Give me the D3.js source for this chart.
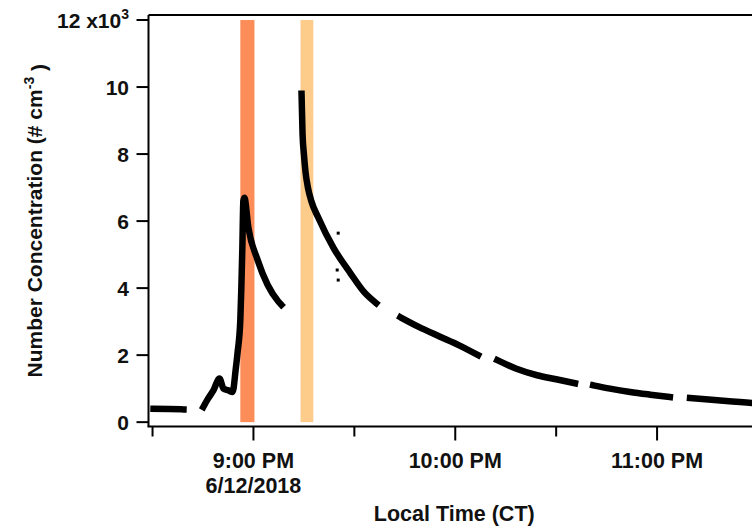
<!DOCTYPE html>
<html>
<head>
<meta charset="utf-8">
<script src="https://cdn.jsdelivr.net/npm/d3@7"></script>
<style>
  body { margin: 0; background: #fff; }
  text { font-family: "Liberation Sans", Arial, sans-serif; font-weight: bold; fill: #111; }
</style>
</head>
<body>
<div id="chart"></div>
<script>
// time values are minutes after 9:00 PM on 6/12/2018, values in 10^3 # cm^-3
const flatSegment = [[-29.7, 0.40], [-25, 0.39], [-20.8, 0.38]];
const firstEvent = [[-14.9, 0.45], [-13.5, 0.7], [-11.9, 0.95], [-10.1, 1.3], [-8.9, 1.0], [-7.5, 0.95],
  [-6.2, 0.9], [-5.3, 1.55], [-4.75, 2.05], [-3.9, 3.05], [-3.6, 4.0], [-3.3, 5.2], [-3.0, 6.6],
  [-2.7, 6.7], [-1.5, 5.8], [1.2, 4.85], [4.2, 4.1], [7.4, 3.6], [8.3, 3.5]];
const secondEvent = [[14.3, 9.8], [14.6, 8.6], [15.0, 8.0], [15.5, 7.45], [16.2, 7.0], [17.2, 6.6],
  [19.3, 6.1], [23.8, 5.2], [28.8, 4.45], [33, 3.87], [36.5, 3.55]];
const decay1 = [[43.7, 3.13], [49, 2.85], [55.5, 2.55], [61, 2.3], [66.8, 2.0]];
const decay2 = [[72.5, 1.85], [78, 1.6], [84.3, 1.4], [90, 1.28], [95.6, 1.16]];
const decay3 = [[101, 1.1], [106, 1.0], [112, 0.9], [118, 0.82], [123.8, 0.75]];
const decay4 = [[129.8, 0.72], [138, 0.65], [148.2, 0.57], [155, 0.53]];
const strayPoints = [[25.2, 5.64], [24.9, 4.54], [25.2, 4.24]];

// shaded periods (minutes after 9:00 PM)
const bands = [
  { start: -3.9, end: 0.3, color: "#fc8d59" },
  { start: 14.0, end: 17.8, color: "#fdcc8a" }
];

const yTicks = [0, 2, 4, 6, 8, 10, 12];
const hourTicks = [0, 60, 120];
const hourLabels = ["9:00 PM", "10:00 PM", "11:00 PM"];
const halfHourTicks = [-30, 30, 90, 150];

const base = new Date(2018, 5, 12, 21, 0);
const toDate = m => new Date(base.getTime() + m * 60000);

const width = 752, height = 529;
const plotLeft = 148.5, plotRight = 760, plotTop = 15, plotBottom = 426.5;

const svg = d3.select("#chart").append("svg")
  .attr("width", width).attr("height", height);

const x = d3.scaleTime()
  .domain([toDate(-31.2), toDate(150.6)])
  .range([plotLeft, plotRight]);
const y = d3.scaleLinear()
  .domain([-0.13, 12.15])
  .range([plotBottom, plotTop]);

// shaded bands
svg.selectAll(".band").data(bands).enter().append("rect")
  .attr("x", d => x(toDate(d.start)))
  .attr("width", d => x(toDate(d.end)) - x(toDate(d.start)))
  .attr("y", y(12))
  .attr("height", y(0) - y(12))
  .attr("fill", d => d.color);

// data segments
const line = d3.line()
  .curve(d3.curveMonotoneX)
  .x(d => x(toDate(d[0])))
  .y(d => y(d[1]));

const segments = [flatSegment, firstEvent, secondEvent, decay1, decay2, decay3, decay4];
svg.selectAll(".seg").data(segments).enter().append("path")
  .attr("d", line)
  .attr("fill", "none")
  .attr("stroke", "#000")
  .attr("stroke-width", 6.5)
  .attr("stroke-linecap", "square")
  .attr("stroke-linejoin", "round");

svg.selectAll(".stray").data(strayPoints).enter().append("rect")
  .attr("x", d => x(toDate(d[0])) - 1.5)
  .attr("y", d => y(d[1]) - 1.5)
  .attr("width", 3).attr("height", 3)
  .attr("fill", "#000");

// frame
svg.append("line").attr("x1", plotLeft).attr("x2", plotLeft).attr("y1", plotTop).attr("y2", plotBottom)
  .attr("stroke", "#000").attr("stroke-width", 2);
svg.append("line").attr("x1", plotLeft).attr("x2", plotRight).attr("y1", plotTop).attr("y2", plotTop)
  .attr("stroke", "#000").attr("stroke-width", 2);
svg.append("line").attr("x1", plotLeft - 1).attr("x2", plotRight).attr("y1", plotBottom).attr("y2", plotBottom)
  .attr("stroke", "#000").attr("stroke-width", 2);

// y ticks
const yg = svg.append("g");
yg.selectAll("line").data(yTicks).enter().append("line")
  .attr("x1", plotLeft - 12).attr("x2", plotLeft)
  .attr("y1", d => y(d)).attr("y2", d => y(d))
  .attr("stroke", "#000").attr("stroke-width", 2);
const yl = yg.selectAll("text").data(yTicks).enter().append("text")
  .attr("x", 129).attr("y", d => y(d)).attr("dy", "0.36em")
  .attr("text-anchor", "end").style("font-size", "21px");
yl.append("tspan").text(d => d === 12 ? "12 x10" : d);
yl.filter(d => d === 12).append("tspan")
  .attr("dy", "-0.6em").style("font-size", "14px").text("3");

// x ticks
const xg = svg.append("g");
xg.selectAll(".major").data(hourTicks).enter().append("line")
  .attr("x1", d => x(toDate(d))).attr("x2", d => x(toDate(d)))
  .attr("y1", plotBottom).attr("y2", plotBottom + 14)
  .attr("stroke", "#000").attr("stroke-width", 2);
xg.selectAll(".minor").data(halfHourTicks).enter().append("line")
  .attr("x1", d => x(toDate(d))).attr("x2", d => x(toDate(d)))
  .attr("y1", plotBottom).attr("y2", plotBottom + 10)
  .attr("stroke", "#000").attr("stroke-width", 2);
xg.selectAll("text").data(hourTicks).enter().append("text")
  .attr("x", d => x(toDate(d))).attr("y", 468)
  .attr("text-anchor", "middle").style("font-size", "21.5px")
  .text((d, i) => hourLabels[i]);
svg.append("text")
  .attr("x", x(toDate(0))).attr("y", 493)
  .attr("text-anchor", "middle").style("font-size", "21.5px")
  .text("6/12/2018");

// axis titles
svg.append("text")
  .attr("x", (plotLeft + plotRight) / 2).attr("y", 521)
  .attr("text-anchor", "middle").style("font-size", "21.5px")
  .text("Local Time (CT)");

const yt = svg.append("text")
  .attr("transform", `translate(42,${(plotTop + plotBottom) / 2}) rotate(-90)`)
  .attr("text-anchor", "middle").style("font-size", "21px");
yt.append("tspan").text("Number Concentration (# cm");
yt.append("tspan").attr("dy", "-0.6em").style("font-size", "14px").text("-3");
yt.append("tspan").attr("dy", "0.6em").text(" )");
</script>
</body>
</html>
